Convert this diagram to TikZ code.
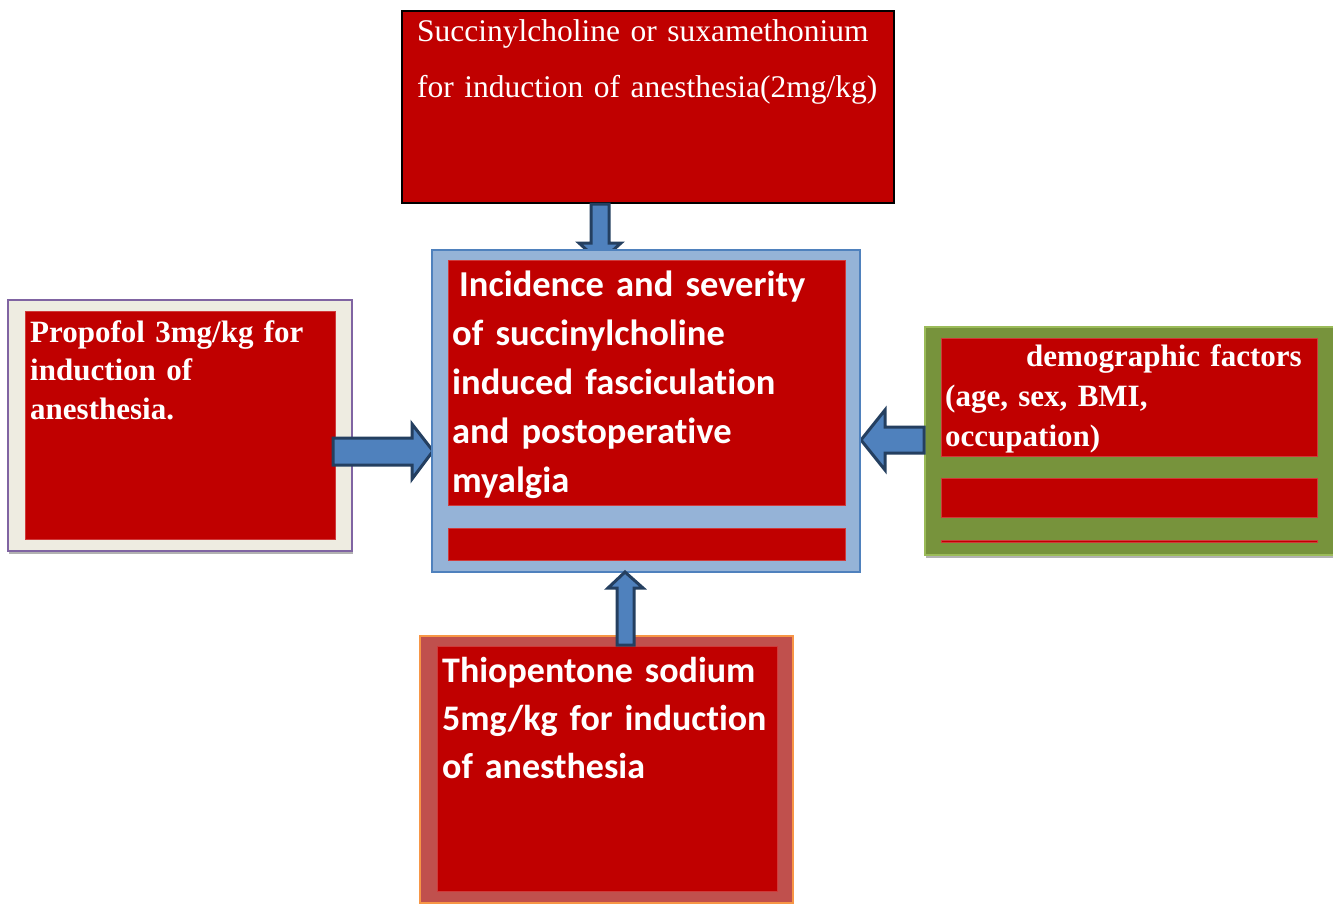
\documentclass[tikz,border=0pt]{standalone}
\usepackage{fontspec}
\setmainfont{Liberation Serif}
\newfontfamily\calib[Ligatures=NoCommon]{Carlito}
\definecolor{dred}{HTML}{C00000}
\definecolor{redEdge}{HTML}{D03A3A}
\definecolor{ablue}{HTML}{4F81BD}
\definecolor{anavy}{HTML}{243F60}
\definecolor{lblue}{HTML}{95B3D7}
\definecolor{cream}{HTML}{EEECE1}
\definecolor{purp}{HTML}{8064A2}
\definecolor{olive}{HTML}{77933C}
\definecolor{lgreen}{HTML}{9BBB59}
\definecolor{brick}{HTML}{C0504D}
\definecolor{orng}{HTML}{F79646}
\begin{document}
\begin{tikzpicture}[x=1pt,y=-1pt,
  box/.style={anchor=north west,inner sep=0pt,outer sep=0pt},
  redpanel/.style={box,fill=dred,draw=redEdge,line width=0.8pt},
  shadowbox/.style={box,fill=black!30},
  blockarrow/.style={fill=ablue,draw=anavy,line width=3pt,line join=miter},
  txt/.style={anchor=base west,inner sep=0pt,text=white,align=left,text width=#1}]
\useasboundingbox (0,0) rectangle (1333,903);
\fill[white] (0,0) rectangle (1333,903);

% ---- top box
\node[box,fill=dred,draw=black,line width=2pt,minimum width=492pt,minimum height=192pt] (top) at (402,11) {};
\node[txt=480pt,font=\fontsize{31.5}{56}\selectfont] (toptext) at (417,41)
  {Succinylcholine or suxamethonium\\for induction of anesthesia(2mg/kg)};

% ---- left box
\node[shadowbox,minimum width=344pt,minimum height=251pt] (leftsh) at (9,303) {};
\node[box,fill=cream,draw=purp,line width=1.5pt,minimum width=344pt,minimum height=251pt] (left) at (8,300) {};
\node[redpanel,minimum width=310pt,minimum height=228pt] (leftin) at (25,311) {};
\node[txt=300pt,font=\bfseries\fontsize{31}{38.5}\selectfont] (lefttext) at (30,342)
  {Propofol 3mg/kg for\\induction of\\anesthesia.};

% ---- right box
\node[shadowbox,minimum width=408pt,minimum height=228pt] (rightsh) at (926,330) {};
\node[box,fill=olive,draw=lgreen,line width=1.5pt,minimum width=410pt,minimum height=228pt] (right) at (925,327) {};
\node[redpanel,minimum width=376pt,minimum height=118pt] (rightin) at (941,338) {};
\node[redpanel,minimum width=376pt,minimum height=39pt] (rightbar) at (941,478) {};
\node[redpanel,minimum width=376pt,minimum height=2pt] (rightline) at (941,540) {};
\node[txt=380pt,font=\bfseries\fontsize{31}{40}\selectfont] (righttext) at (945,366)
  {\hspace*{81pt}demographic factors\\(age, sex, BMI,\\occupation)};

% ---- bottom box
\node[box,fill=brick,draw=orng,line width=1.5pt,minimum width=373pt,minimum height=267pt] (bot) at (420,636) {};
\node[redpanel,minimum width=340pt,minimum height=245pt] (botin) at (437,646) {};
\node[txt=340pt,font=\calib\bfseries\fontsize{36}{48}\selectfont] (bottext) at (442,682)
  {Thiopentone sodium\\5mg/kg for induction\\of anesthesia};

% ---- block arrows (drawn under the centre box)
% top, pointing down
\draw[blockarrow] (591,204) -- (609,204) -- (609,243) -- (621,243) -- (600,262) -- (579,243) -- (591,243) -- cycle;
% left, pointing right
\draw[blockarrow] (333,438) -- (412,438) -- (412,424) -- (433,451) -- (412,479) -- (412,465) -- (333,465) -- cycle;
% right, pointing left
\draw[blockarrow] (924,427) -- (885,427) -- (885,410) -- (861,440) -- (885,470) -- (885,453) -- (924,453) -- cycle;

% ---- centre box
\node[box,fill=lblue,draw=ablue,line width=1.5pt,minimum width=428pt,minimum height=322pt] (centre) at (432,250) {};
\node[redpanel,minimum width=397pt,minimum height=245pt] (centrein) at (448,260) {};
\node[redpanel,minimum width=397pt,minimum height=32pt] (centrebar) at (448,528) {};
\node[txt=400pt,font=\calib\bfseries\fontsize{36.5}{49}\selectfont] (centretext) at (452,296)
  {\hspace*{7pt}Incidence and severity\\of succinylcholine\\induced fasciculation\\and postoperative\\myalgia};

% bottom arrow, pointing up (over the boxes)
\draw[blockarrow] (617,645) -- (634,645) -- (634,588) -- (643,588) -- (625,572) -- (608,588) -- (617,588) -- cycle;
\end{tikzpicture}
\end{document}
